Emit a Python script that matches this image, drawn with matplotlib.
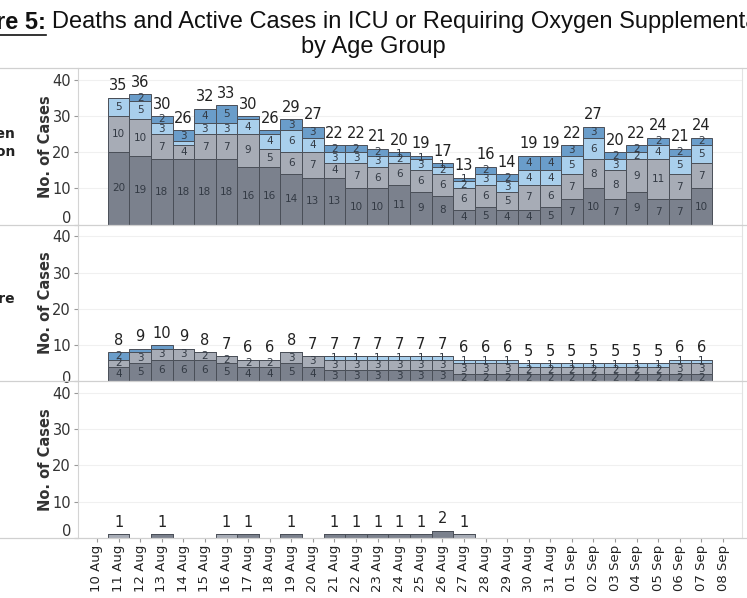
import numpy as np
import matplotlib
matplotlib.use("Agg")
import matplotlib.pyplot as plt
import matplotlib.transforms as mtransforms
from matplotlib.lines import Line2D

# dates on the axis (10 Aug .. 08 Sep), bars sit on 11 Aug .. 07 Sep
dates = ["10 Aug", "11 Aug", "12 Aug", "13 Aug", "14 Aug", "15 Aug", "16 Aug", "17 Aug",
         "18 Aug", "19 Aug", "20 Aug", "21 Aug", "22 Aug", "23 Aug", "24 Aug", "25 Aug",
         "26 Aug", "27 Aug", "28 Aug", "29 Aug", "30 Aug", "31 Aug", "01 Sep", "02 Sep",
         "03 Sep", "04 Sep", "05 Sep", "06 Sep", "07 Sep", "08 Sep"]
bar_dates = dates[1:29]

# top panel: requiring oxygen supplementation (stack from bottom)
oxy_dark = [20, 19, 18, 18, 18, 18, 16, 16, 14, 13, 13, 10, 10, 11, 9, 8, 4, 5, 4, 4, 5, 7, 10, 7, 9, 7, 7, 10]
oxy_grey = [10, 10, 7, 4, 7, 7, 9, 5, 6, 7, 4, 7, 6, 6, 6, 6, 6, 6, 5, 7, 6, 7, 8, 8, 9, 11, 7, 7]
oxy_lblue = [5, 5, 3, 1, 3, 3, 4, 4, 6, 4, 3, 3, 3, 2, 3, 2, 2, 3, 3, 4, 4, 5, 6, 3, 2, 4, 5, 5]
oxy_mblue = [0, 2, 2, 3, 4, 5, 1, 1, 3, 3, 2, 2, 2, 1, 1, 1, 1, 2, 2, 4, 4, 3, 3, 2, 2, 2, 2, 2]

# middle panel: in ICU
icu_dark = [4, 5, 6, 6, 6, 5, 4, 4, 5, 4, 3, 3, 3, 3, 3, 3, 2, 2, 2, 2, 2, 2, 2, 2, 2, 2, 2, 2]
icu_grey = [2, 3, 3, 3, 2, 2, 2, 2, 3, 3, 3, 3, 3, 3, 3, 3, 3, 3, 3, 2, 2, 2, 2, 2, 2, 2, 3, 3]
icu_lblue = [0, 0, 0, 0, 0, 0, 0, 0, 0, 0, 1, 1, 1, 1, 1, 1, 1, 1, 1, 1, 1, 1, 1, 1, 1, 1, 1, 1]
icu_mblue = [2, 1, 1, 0, 0, 0, 0, 0, 0, 0, 0, 0, 0, 0, 0, 0, 0, 0, 0, 0, 0, 0, 0, 0, 0, 0, 0, 0]

# bottom panel: deaths
death_dark = [0, 0, 1, 0, 0, 0, 1, 0, 1, 0, 1, 1, 1, 1, 1, 2, 0, 0, 0, 0, 0, 0, 0, 0, 0, 0, 0, 0]
death_grey = [1, 0, 0, 0, 0, 1, 0, 0, 0, 0, 0, 0, 0, 0, 0, 0, 1, 0, 0, 0, 0, 0, 0, 0, 0, 0, 0, 0]
death_lblue = [0] * 28
death_mblue = [0] * 28

# segments Tableau left unlabeled: (bar index, layer)
oxy_skip = {(3, 2), (6, 3), (7, 3)}
icu_skip = {(1, 3), (2, 3)}

row_labels = ["Requiring Oxygen\nSupplementation", "ICU Care", ""]
colors = ["#7b818d", "#a7acb6", "#a9cfec", "#6a9dca"]

fig = plt.figure(figsize=(7.47, 5.98), dpi=100)
W, H = 747.0, 598.0

x = np.arange(1, 29)
panels = [
    ([oxy_dark, oxy_grey, oxy_lblue, oxy_mblue], oxy_skip, True),
    ([icu_dark, icu_grey, icu_lblue, icu_mblue], icu_skip, True),
    ([death_dark, death_grey, death_lblue, death_mblue], set(), False),
]

top_px = 68
ph = (538 - 68) / 3.0
axes = []
for p, (layers, skip, inner) in enumerate(panels):
    y0 = top_px + ph * (p + 1)
    ax = fig.add_axes([78 / W, 1 - y0 / H, (742 - 78) / W, ph / H])
    axes.append(ax)
    bottom = np.zeros(28)
    for k, vals in enumerate(layers):
        vals = np.array(vals, dtype=float)
        ax.bar(x, vals, width=1.0, bottom=bottom, color=colors[k],
               edgecolor="#4a4f58", linewidth=0.7, zorder=3)
        if inner:
            for i in range(28):
                if vals[i] > 0 and (i, k) not in skip:
                    ax.text(x[i], bottom[i] + vals[i] / 2, str(int(vals[i])),
                            ha="center", va="center", fontsize=7.5, color="#333a44", zorder=4)
        bottom = bottom + vals
    for i in range(28):
        if bottom[i] > 0:
            ax.text(x[i], bottom[i] + 1.2, str(int(bottom[i])), ha="center", va="bottom",
                    fontsize=10.5, color="#222222", zorder=4)

    ax.set_xlim(-0.88, 29.88)
    ax.set_ylim(0, 43.2)
    ax.set_yticks([0, 10, 20, 30, 40])
    ax.tick_params(axis="y", length=3, color="#999999", labelsize=10.5, labelcolor="#333333", pad=2)
    ax.grid(axis="y", color="#f0f0f0", linewidth=0.8, zorder=0)
    for s in ["top", "bottom"]:
        ax.spines[s].set_visible(False)
    ax.spines["left"].set_color("#d4d4d4")
    ax.spines["right"].set_color("#e2e2e2")
    ax.set_xticks(range(30))
    if p < 2:
        ax.tick_params(axis="x", length=0, labelbottom=False)
    else:
        ax.set_xticklabels(dates, rotation=90, fontsize=9.5, color="#222222")
        ax.tick_params(axis="x", length=3, color="#999999", pad=2)
    # the zero label sits a little above the baseline in the top and bottom panels
    lift = 8 if p != 1 else 4
    zlab = ax.get_yticklabels()[0]
    zlab.set_transform(zlab.get_transform() +
                       mtransforms.ScaledTranslation(0, lift / 100.0, fig.dpi_scale_trans))

    cy = 1 - (y0 - ph / 2) / H
    fig.text(45 / W, cy, "No. of Cases", rotation=90, ha="center", va="center",
             fontsize=10.5, fontweight="bold", color="#333333")
    if row_labels[p]:
        fig.text(15 / W, cy + 0.006, row_labels[p], ha="right", va="center", multialignment="right",
                 fontsize=10, fontweight="bold", color="#222222", linespacing=1.4)

# separator lines across the figure
for yp in [68, 68 + ph, 68 + 2 * ph, 538]:
    fig.add_artist(Line2D([0, 1], [1 - yp / H, 1 - yp / H], color="#d0d0d0", linewidth=0.9))

# title
t1 = fig.text(46 / W, 1 - 22 / H, "Figure 5:", ha="right", va="center", fontsize=17,
              fontweight="bold", family="Liberation Sans", color="#111111")
fig.text(52 / W, 1 - 22 / H, "Deaths and Active Cases in ICU or Requiring Oxygen Supplementation",
         ha="left", va="center", fontsize=17, family="Liberation Sans", color="#111111")
fig.text(0.5, 1 - 47 / H, "by Age Group", ha="center", va="center", fontsize=17,
         family="Liberation Sans", color="#111111")
fig.canvas.draw()
bb = t1.get_window_extent(fig.canvas.get_renderer())
fig.add_artist(Line2D([bb.x0 / W, bb.x1 / W], [(bb.y0 - 1) / H, (bb.y0 - 1) / H],
                      color="#111111", linewidth=1.2))

fig.savefig("out.png", dpi=100)
